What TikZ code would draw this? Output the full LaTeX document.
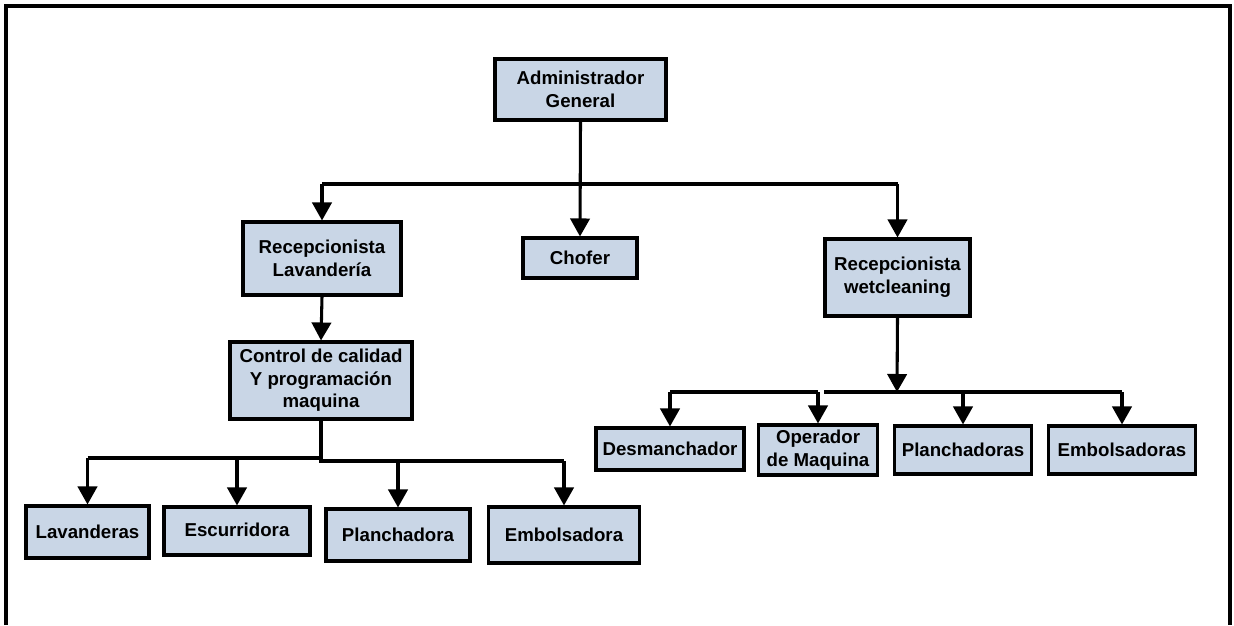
\documentclass[tikz,border=0pt]{standalone}
\usepackage{fontspec}
\setmainfont{Liberation Sans}
\usetikzlibrary{arrows.meta}
\definecolor{boxfill}{RGB}{201,214,230}
\tikzset{
  orgbox/.style 2 args={draw=black, line width=2.3pt, fill=boxfill, inner sep=0pt,
    minimum width=#1*0.75pt, minimum height=#2*0.75pt, align=center,
    font=\bfseries\fontsize{14}{17}\selectfont},
  conn/.style={line width=2.3pt, draw=black},
  arr/.style={conn, -{Triangle[length=13.5pt, width=14.5pt]}},
}
\begin{document}
\begin{tikzpicture}[x=0.75pt, y=-0.75pt]
\useasboundingbox (0,0) rectangle (1234,625);
% frame
\draw[line width=2.7pt] (6,625) -- (6,6) -- (1230,6) -- (1230,625);

% nodes
\node[orgbox={171}{61}] (admin) at (580.5,89.5) {Administrador\\General};
\node[orgbox={158}{73}] (recl) at (322,258.5) {Recepcionista\\Lavandería};
\node[orgbox={114}{40}] (chofer) at (580,258) {Chofer};
\node[orgbox={145}{77}] (recw) at (897.5,277.5) {Recepcionista\\wetcleaning};
\node[orgbox={182}{77}] (control) at (321,380.5) {Control de calidad\\Y programación\\maquina};
\node[orgbox={123}{52}] (lav) at (87.5,532) {Lavanderas};
\node[orgbox={146}{48}] (esc) at (237,531) {\raisebox{2pt}{Escurridora}};
\node[orgbox={144}{52}] (planl) at (398,535) {Planchadora};
\node[orgbox={151}{56}] (emb) at (564,535) {Embolsadora};
\node[orgbox={148}{42}] (desm) at (670,449) {Desmanchador};
\node[orgbox={119}{50}] (oper) at (818,450) {Operador\\de Maquina};
\node[orgbox={137}{48}] (planw) at (963,450) {Planchadoras};
\node[orgbox={147}{48}] (embw) at (1122,450) {Embolsadoras};

% bus coordinates
\coordinate (b1) at (580.5,184);
\coordinate (b2) at (321,458);
\coordinate (b3) at (321,461);
\coordinate (b4) at (897,392);
\coordinate (b5) at (824,392);

% top level
\draw[conn] (recl.north |- b1) -- (recw.north |- b1);
\draw[arr] (admin.south) -- (chofer.north);
\draw[arr] (recl.north |- b1) -- (recl.north);
\draw[arr] (recw.north |- b1) -- (recw.north);

% left branch
\draw[arr] (recl.south) -- (control.north);
\draw[conn] (control.south) -- (b2);
\draw[conn] (lav.north |- b2) -- (b2) -- (b3) -- (emb.north |- b3);
\draw[arr] (lav.north |- b2) -- (lav.north);
\draw[arr] (esc.north |- b2) -- (esc.north);
\draw[arr] (planl.north |- b3) -- (planl.north);
\draw[arr] (emb.north |- b3) -- (emb.north);

% right branch
\draw[arr] (recw.south) -- (b4);
\draw[conn] (desm.north |- b4) -- (oper.north |- b4);
\draw[conn] (b5) -- (embw.north |- b4);
\draw[arr] (desm.north |- b4) -- (desm.north);
\draw[arr] (oper.north |- b4) -- (oper.north);
\draw[arr] (planw.north |- b4) -- (planw.north);
\draw[arr] (embw.north |- b4) -- (embw.north);
\end{tikzpicture}
\end{document}
